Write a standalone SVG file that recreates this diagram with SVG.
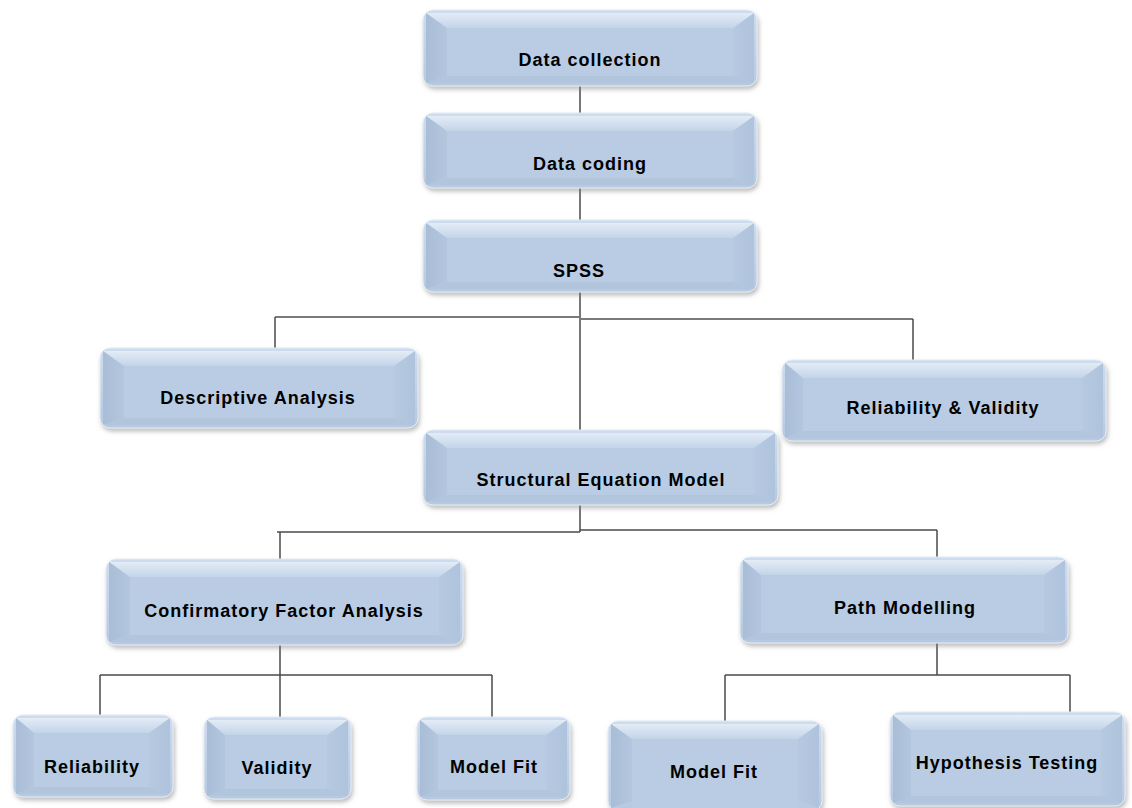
<svg xmlns="http://www.w3.org/2000/svg" width="1132" height="808" viewBox="0 0 1132 808">
  <defs>
    <linearGradient id="base" x1="0" y1="0" x2="0" y2="1">
      <stop offset="0" stop-color="#cddcee"/>
      <stop offset="1" stop-color="#b6c9e1"/>
    </linearGradient>
    <linearGradient id="topBevel" x1="0" y1="0" x2="0" y2="1">
      <stop offset="0" stop-color="#e3ecf6"/>
      <stop offset="1" stop-color="#c3d4e9"/>
    </linearGradient>
    <linearGradient id="leftBevel" x1="0" y1="0" x2="1" y2="0">
      <stop offset="0" stop-color="#a9bdd6"/>
      <stop offset="1" stop-color="#b3c6de"/>
    </linearGradient>
    <linearGradient id="rightBevel" x1="0" y1="0" x2="1" y2="0">
      <stop offset="0" stop-color="#b6c9e1"/>
      <stop offset="1" stop-color="#afc3dc"/>
    </linearGradient>
    <filter id="shadow" x="-10%" y="-10%" width="125%" height="135%">
      <feDropShadow dx="1.5" dy="3" stdDeviation="2" flood-color="#7f7f7f" flood-opacity="0.5"/>
    </filter>
    <style>
      .box { fill: url(#base); stroke: #e4ecf5; stroke-width: 1; }
      .bt { fill: url(#topBevel); }
      .bl { fill: url(#leftBevel); }
      .br { fill: url(#rightBevel); }
      .bb { fill: #b1c5dd; }
      .face { fill: #b9cce4; }
      .lbl { font-family: "Liberation Sans", Arial, sans-serif; font-weight: bold; font-size: 18px; letter-spacing: 1px; fill: #000; text-anchor: middle; }
      .wire { stroke: #4a4a4a; stroke-width: 1.5; fill: none; }
      .bar { stroke: #7a7a7a; stroke-width: 2; fill: none; }
    </style>
  </defs>
  <rect width="1132" height="808" fill="#ffffff"/>

  <!-- connectors -->
  <g id="connectors">
    <line class="wire" x1="580" y1="86" x2="580" y2="113"/>
    <line class="wire" x1="580" y1="188" x2="580" y2="220"/>
    <line class="wire" x1="580" y1="292" x2="580" y2="430"/>
    <line class="bar" x1="275" y1="317" x2="580" y2="317"/>
    <line class="bar" x1="580" y1="319" x2="913" y2="319"/>
    <line class="wire" x1="275" y1="317" x2="275" y2="348"/>
    <line class="wire" x1="913" y1="319" x2="913" y2="360"/>
    <line class="wire" x1="580" y1="505" x2="580" y2="532"/>
    <line class="wire" x1="277" y1="532" x2="580" y2="532"/>
    <line class="wire" x1="580" y1="530" x2="937" y2="530"/>
    <line class="wire" x1="280" y1="532" x2="280" y2="559" stroke="#8ea4c4"/>
    <line class="wire" x1="937" y1="530" x2="937" y2="557"/>
    <line class="wire" x1="280" y1="645" x2="280" y2="675"/>
    <line class="wire" x1="100" y1="675" x2="492" y2="675"/>
    <line class="wire" x1="100" y1="675" x2="100" y2="715"/>
    <line class="wire" x1="280" y1="675" x2="280" y2="717"/>
    <line class="wire" x1="492" y1="675" x2="492" y2="717"/>
    <line class="wire" x1="937" y1="643" x2="937" y2="675"/>
    <line class="wire" x1="725" y1="675" x2="1070" y2="675"/>
    <line class="wire" x1="725" y1="675" x2="725" y2="721"/>
    <line class="wire" x1="1070" y1="675" x2="1070" y2="712"/>
  </g>

  <!-- Data collection: 423,10 334x76 -->
  <g id="data-collection">
    <rect class="box" x="423" y="10" width="334" height="76" rx="10" filter="url(#shadow)"/>
    <polygon class="bt" points="426,13 754,13 733,28 447,28"/>
    <polygon class="bl" points="426,13 447,28 447,76 426,83"/>
    <polygon class="br" points="754,13 754,83 733,76 733,28"/>
    <polygon class="bb" points="426,83 447,76 733,76 754,83"/>
    <rect class="face" x="447" y="28" width="286" height="48"/>
    <text class="lbl" x="590" y="66">Data collection</text>
  </g>

  <!-- Data coding: 423,113 334x75 -->
  <g id="data-coding">
    <rect class="box" x="423" y="113" width="334" height="75" rx="10" filter="url(#shadow)"/>
    <polygon class="bt" points="426,116 754,116 733,131 447,131"/>
    <polygon class="bl" points="426,116 447,131 447,178 426,185"/>
    <polygon class="br" points="754,116 754,185 733,178 733,131"/>
    <polygon class="bb" points="426,185 447,178 733,178 754,185"/>
    <rect class="face" x="447" y="131" width="286" height="47"/>
    <text class="lbl" x="590" y="170">Data coding</text>
  </g>

  <!-- SPSS: 423,220 334x72 -->
  <g id="spss">
    <rect class="box" x="423" y="220" width="334" height="72" rx="10" filter="url(#shadow)"/>
    <polygon class="bt" points="426,223 754,223 733,238 447,238"/>
    <polygon class="bl" points="426,223 447,238 447,282 426,289"/>
    <polygon class="br" points="754,223 754,289 733,282 733,238"/>
    <polygon class="bb" points="426,289 447,282 733,282 754,289"/>
    <rect class="face" x="447" y="238" width="286" height="44"/>
    <text class="lbl" x="579" y="277">SPSS</text>
  </g>

  <!-- Descriptive Analysis: 100,348 318x80 -->
  <g id="descriptive-analysis">
    <rect class="box" x="100" y="348" width="318" height="80" rx="10" filter="url(#shadow)"/>
    <polygon class="bt" points="103,351 415,351 394,366 124,366"/>
    <polygon class="bl" points="103,351 124,366 124,418 103,425"/>
    <polygon class="br" points="415,351 415,425 394,418 394,366"/>
    <polygon class="bb" points="103,425 124,418 394,418 415,425"/>
    <rect class="face" x="124" y="366" width="270" height="52"/>
    <text class="lbl" x="258" y="404">Descriptive Analysis</text>
  </g>

  <!-- Reliability & Validity: 782,360 324x81 -->
  <g id="reliability-validity">
    <rect class="box" x="782" y="360" width="324" height="81" rx="10" filter="url(#shadow)"/>
    <polygon class="bt" points="785,363 1103,363 1082,378 803,378"/>
    <polygon class="bl" points="785,363 803,378 803,431 785,438"/>
    <polygon class="br" points="1103,363 1103,438 1082,431 1082,378"/>
    <polygon class="bb" points="785,438 803,431 1082,431 1103,438"/>
    <rect class="face" x="803" y="378" width="279" height="53"/>
    <text class="lbl" x="943" y="414">Reliability &amp; Validity</text>
  </g>

  <!-- Structural Equation Model: 423,430 355x75 -->
  <g id="structural-equation-model">
    <rect class="box" x="423" y="430" width="355" height="75" rx="10" filter="url(#shadow)"/>
    <polygon class="bt" points="426,433 775,433 754,448 447,448"/>
    <polygon class="bl" points="426,433 447,448 447,495 426,502"/>
    <polygon class="br" points="775,433 775,502 754,495 754,448"/>
    <polygon class="bb" points="426,502 447,495 754,495 775,502"/>
    <rect class="face" x="447" y="448" width="307" height="47"/>
    <text class="lbl" x="601" y="486">Structural Equation Model</text>
  </g>

  <!-- Confirmatory Factor Analysis: 106,559 357x86 -->
  <g id="confirmatory-factor-analysis">
    <rect class="box" x="106" y="559" width="357" height="86" rx="10" filter="url(#shadow)"/>
    <polygon class="bt" points="109,562 460,562 439,577 130,577"/>
    <polygon class="bl" points="109,562 130,577 130,635 109,642"/>
    <polygon class="br" points="460,562 460,642 439,635 439,577"/>
    <polygon class="bb" points="109,642 130,635 439,635 460,642"/>
    <rect class="face" x="130" y="577" width="309" height="58"/>
    <text class="lbl" x="284" y="617">Confirmatory Factor Analysis</text>
  </g>

  <!-- Path Modelling: 740,557 328x86 -->
  <g id="path-modelling">
    <rect class="box" x="740" y="557" width="328" height="86" rx="10" filter="url(#shadow)"/>
    <polygon class="bt" points="743,560 1065,560 1044,575 761,575"/>
    <polygon class="bl" points="743,560 761,575 761,633 743,640"/>
    <polygon class="br" points="1065,560 1065,640 1044,633 1044,575"/>
    <polygon class="bb" points="743,640 761,633 1044,633 1065,640"/>
    <rect class="face" x="761" y="575" width="283" height="58"/>
    <text class="lbl" x="905" y="614">Path Modelling</text>
  </g>

  <!-- Reliability: 13,715 160x82 -->
  <g id="reliability">
    <rect class="box" x="13" y="715" width="160" height="82" rx="10" filter="url(#shadow)"/>
    <polygon class="bt" points="16,718 170,718 149,733 34,733"/>
    <polygon class="bl" points="16,718 34,733 34,787 16,794"/>
    <polygon class="br" points="170,718 170,794 149,787 149,733"/>
    <polygon class="bb" points="16,794 34,787 149,787 170,794"/>
    <rect class="face" x="34" y="733" width="115" height="54"/>
    <text class="lbl" x="92" y="773">Reliability</text>
  </g>

  <!-- Validity: 204,717 147x82 -->
  <g id="validity">
    <rect class="box" x="204" y="717" width="147" height="82" rx="10" filter="url(#shadow)"/>
    <polygon class="bt" points="207,720 348,720 327,735 225,735"/>
    <polygon class="bl" points="207,720 225,735 225,789 207,796"/>
    <polygon class="br" points="348,720 348,796 327,789 327,735"/>
    <polygon class="bb" points="207,796 225,789 327,789 348,796"/>
    <rect class="face" x="225" y="735" width="102" height="54"/>
    <text class="lbl" x="277" y="774">Validity</text>
  </g>

  <!-- Model Fit (CFA): 417,717 153x83 -->
  <g id="model-fit-cfa">
    <rect class="box" x="417" y="717" width="153" height="83" rx="10" filter="url(#shadow)"/>
    <polygon class="bt" points="420,720 567,720 546,735 438,735"/>
    <polygon class="bl" points="420,720 438,735 438,790 420,797"/>
    <polygon class="br" points="567,720 567,797 546,790 546,735"/>
    <polygon class="bb" points="420,797 438,790 546,790 567,797"/>
    <rect class="face" x="438" y="735" width="108" height="55"/>
    <text class="lbl" x="494" y="773">Model Fit</text>
  </g>

  <!-- Model Fit (path): 608,721 214x90 -->
  <g id="model-fit-path">
    <rect class="box" x="608" y="721" width="214" height="90" rx="10" filter="url(#shadow)"/>
    <polygon class="bt" points="611,724 819,724 798,739 632,739"/>
    <polygon class="bl" points="611,724 632,739 632,801 611,808"/>
    <polygon class="br" points="819,724 819,808 798,801 798,739"/>
    <rect class="face" x="632" y="739" width="166" height="69"/>
    <text class="lbl" x="714" y="778">Model Fit</text>
  </g>

  <!-- Hypothesis Testing: 890,712 235x94 -->
  <g id="hypothesis-testing">
    <rect class="box" x="890" y="712" width="235" height="94" rx="10" filter="url(#shadow)"/>
    <polygon class="bt" points="893,715 1122,715 1101,730 911,730"/>
    <polygon class="bl" points="893,715 911,730 911,796 893,803"/>
    <polygon class="br" points="1122,715 1122,803 1101,796 1101,730"/>
    <polygon class="bb" points="893,803 911,796 1101,796 1122,803"/>
    <rect class="face" x="911" y="730" width="190" height="66"/>
    <text class="lbl" x="1007" y="769">Hypothesis Testing</text>
  </g>
</svg>
